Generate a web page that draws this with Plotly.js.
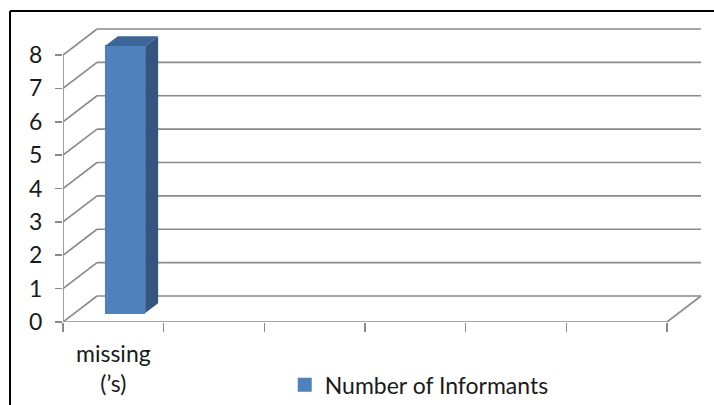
<!DOCTYPE html>
<html>
<head>
<meta charset="utf-8">
<script src="https://cdn.plot.ly/plotly-3.0.1.min.js"></script>
<style>
  html, body { margin: 0; padding: 0; background: #ffffff; }
  #chart { width: 714px; height: 405px; }
</style>
</head>
<body>
<div id="chart"></div>
<script>
// Category slots along the floor of the 3-D box (only the first one is filled)
const categories = ['missing<br>(\u2019s)', '', '', '', '', ''];
// Number of informants per category
const informants = [8, null, null, null, null, null];
// Value-axis ticks
const yTicks = [0, 1, 2, 3, 4, 5, 6, 7, 8];
const seriesName = 'Number of Informants';

// Oblique projection of the depth direction, in axis units
const DX = 0.338, DY = 0.779;
// Column placement inside the box depth (fraction of full depth) and column size
const COL_FRONT = 0.345, COL_DEPTH = 0.38, COL_WIDTH = 0.4;

const gridColor = '#8a8a8a';
const lineW = 1.6;
const n = categories.length;
const xMin = -0.5, xMax = n - 0.5;
const yMax = Math.max(...yTicks);

const shapes = [];
function seg(x0, y0, x1, y1, color, width) {
  shapes.push({type: 'line', xref: 'x', yref: 'y', x0, y0, x1, y1, layer: 'below',
               line: {color: color || gridColor, width: width || lineW}});
}
// Side wall diagonals and back wall gridlines
yTicks.forEach(v => {
  seg(xMin, v, xMin + DX, v + DY);
  seg(xMin + DX, v + DY, xMax + DX, v + DY);
});
// Floor front edge, right floor edge, front value-axis line
seg(xMin, 0, xMax, 0);
seg(xMax, 0, xMax + DX, DY);
seg(xMin, 0, xMin, yMax);

// Outer chart frame
const frame = {color: '#000000', width: 2};
shapes.push({type: 'line', xref: 'paper', yref: 'paper', x0: -0.0829, y0: -0.4, x1: -0.0829, y1: 1.0578, line: frame});
shapes.push({type: 'line', xref: 'paper', yref: 'paper', x0: -0.0829, y0: 1.0578, x1: 1.1, y1: 1.0578, line: frame});

// Column front faces
const fx = COL_FRONT * DX, fy = COL_FRONT * DY;
const cx = COL_DEPTH * DX, cy = COL_DEPTH * DY;
const idx = categories.map((_, i) => i);
const frontColor = '#4F81BD';

const traces = [{
  type: 'bar',
  name: seriesName,
  x: idx.map(i => i + fx),
  y: informants,
  base: informants.map(() => fy),
  width: COL_WIDTH - 0.02,
  // a same-coloured outline also enlarges the legend key
  marker: {color: frontColor, line: {width: 2, color: frontColor}},
  hoverinfo: 'skip'
}];

// Column side and top faces
informants.forEach((v, i) => {
  if (v == null) return;
  const x0 = i + fx - COL_WIDTH / 2, x1 = i + fx + COL_WIDTH / 2;
  const b = fy, t = fy + v;
  traces.push({
    type: 'scatter', mode: 'lines', fill: 'toself', showlegend: false, hoverinfo: 'skip',
    x: [x1, x1 + cx, x1 + cx, x1, x1],
    y: [b, b + cy, t + cy, t, b],
    line: {width: 0, color: '#34557F'}, fillcolor: '#34557F'
  });
  traces.push({
    type: 'scatter', mode: 'lines', fill: 'toself', showlegend: false, hoverinfo: 'skip',
    x: [x0, x1, x1 + cx, x0 + cx, x0],
    y: [t, t, t + cy, t + cy, t],
    line: {width: 0, color: '#3D6596'}, fillcolor: '#3D6596'
  });
});

const font = {family: 'Lato, "Open Sans", sans-serif', size: 23, color: '#1a1a1a'};

const layout = {
  width: 714, height: 405,
  margin: {l: 63, r: 12, t: 28, b: 83, autoexpand: false},
  paper_bgcolor: '#ffffff', plot_bgcolor: 'rgba(0,0,0,0)',
  font: font,
  showlegend: true,
  legend: {x: 0.347, xanchor: 'left', y: -0.214, yanchor: 'middle',
           font: font, bgcolor: 'rgba(0,0,0,0)'},
  xaxis: {
    range: [xMin, xMax + DX + 0.01], fixedrange: true, automargin: false,
    tickmode: 'array', tickvals: idx, ticktext: categories,
    ticks: '', showgrid: false, zeroline: false, showline: false,
    ticklabelstandoff: 16, tickfont: font,
    minor: {tickmode: 'array', tickvals: idx.map(i => i - 0.5).concat([xMax]),
            ticks: 'outside', ticklen: 9, tickwidth: lineW, tickcolor: gridColor, showgrid: false}
  },
  yaxis: {
    range: [0, yMax + DY + 0.03], fixedrange: true, automargin: false,
    tickmode: 'array', tickvals: yTicks,
    ticks: 'outside', ticklen: 7, tickwidth: lineW, tickcolor: gridColor,
    showgrid: false, zeroline: false, showline: false,
    ticklabelstandoff: 8, tickfont: font
  },
  shapes: shapes
};

Plotly.newPlot('chart', traces, layout, {staticPlot: true, displayModeBar: false});
</script>
</body>
</html>
